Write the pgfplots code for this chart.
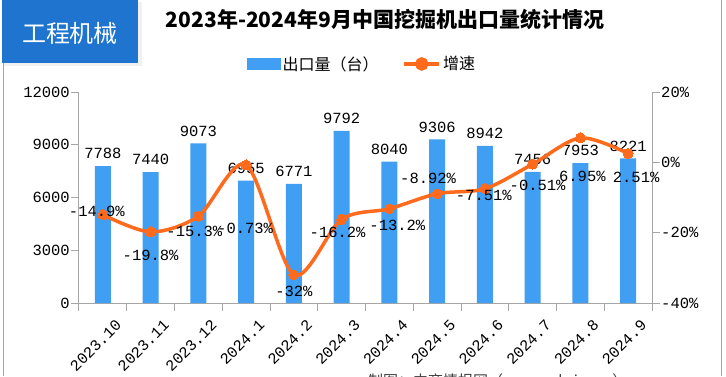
\documentclass[border=0pt]{standalone}
\usepackage{pgfplots}
\pgfplotsset{compat=1.18}
\usepackage{pgfplotstable}
\usepackage{fontspec}
\setmainfont{Liberation Serif}
\newfontfamily\num{Liberation Mono}
\newfontfamily\cjk{Noto Sans CJK SC}
\definecolor{barblue}{HTML}{409EF3}
\definecolor{lineor}{HTML}{FF6A1C}
\definecolor{axgray}{HTML}{A6A6A6}
\definecolor{boxblue}{HTML}{1E74CF}
\pgfplotstableread{
x v g lx ly
0 7788 -14.9 -6 3
1 7440 -19.8 0 -23
2 9073 -15.3 -4 -15
3 6955 -0.73 -1 -63
4 6771 -32 0 -17
5 9792 -16.2 -4 -13
6 8040 -13.2 8 -17
7 9306 -8.92 -9 15
8 8942 -7.51 -1 -7
9 7456 -0.51 5 -21
10 7953 6.95 2 -38
11 8221 2.51 8 -24
}\data
\begin{document}
\begin{tikzpicture}
\useasboundingbox (0,0) rectangle (726pt,376pt);
\clip (0,0) rectangle (726pt,376pt);
\fill[white] (0,0) rectangle (726pt,376pt);
% header box
\fill[black!6] (4pt,310pt) rectangle (142pt,374pt);
\fill[boxblue] (2pt,313pt) rectangle (138pt,376pt);
\node[text=white, font=\cjk\fontsize{24}{24}\selectfont] at (70pt,343pt) {工程机械};
\draw[axgray, line width=1pt] (3pt,0) -- (3pt,313pt);
\draw[axgray, line width=1pt] (721pt,0) -- (721pt,376pt);
\node[font=\cjk\bfseries\fontsize{21}{21}\selectfont] at (385pt,357pt) {2023年-2024年9月中国挖掘机出口量统计情况};
\begin{axis}[
  at={(79pt,73pt)}, anchor=south west, scale only axis,
  width=573pt, height=211pt,
  xmin=-0.5, xmax=11.5, ymin=0, ymax=12000,
  axis y line*=left, axis x line*=bottom,
  axis line style={axgray, line width=1pt},
  tick style={axgray, line width=1pt},
  tick align=outside, major tick length=8pt,
  xtick={-0.5,0.5,...,11.5},
  x tick label as interval,
  xticklabels={2023.10,2023.11,2023.12,2024.1,2024.2,2024.3,2024.4,2024.5,2024.6,2024.7,2024.8,2024.9},
  x tick label style={font=\num\fontsize{15.5}{16}\selectfont, rotate=45, anchor=north east, inner sep=0pt, yshift=-14pt, xshift=3pt},
  scaled y ticks=false,
  ytick={0,3000,6000,9000,12000},
  y tick label style={font=\num\fontsize{15.5}{16}\selectfont, inner sep=1pt},
  /pgf/number format/assume math mode=true,
  /pgf/number format/set thousands separator={},
  nodes near coords,
  every node near coord/.append style={font=\num\fontsize{15.5}{16}\selectfont, anchor=south, inner sep=0pt, yshift=7pt},
]
\addplot[ybar, bar width=16pt, fill=barblue, draw=none] table[x=x,y=v]{\data};
\end{axis}
\begin{axis}[
  at={(79pt,73pt)}, anchor=south west, scale only axis,
  width=573pt, height=211pt,
  xmin=-0.5, xmax=11.5, ymin=-40, ymax=20,
  axis x line=none, axis y line*=right,
  axis line style={axgray, line width=1pt},
  tick style={axgray, line width=1pt},
  tick align=outside, major tick length=8pt,
  ytick={-40,-20,0,20},
  yticklabel={\pgfmathprintnumber[assume math mode=true]{\tick}\%},
  y tick label style={font=\num\fontsize{15.5}{16}\selectfont, inner sep=1pt},
  legend style={at={(0.494,1.133)}, anchor=center, draw=none, fill=none, legend columns=2,
    font=\cjk\fontsize{16}{16}\selectfont,
    /tikz/every even column/.append style={column sep=22pt}},
  legend cell align=left,
]
\addlegendimage{legend image code/.code={\fill[barblue] (0pt,-5.5pt) rectangle (33pt,5.5pt);}}
\addlegendentry{出口量（台）}
\addplot[lineor, line width=3.5pt, smooth, mark=*, mark size=5pt,
  mark options={fill=lineor, draw=lineor, line width=0pt},
  legend image code/.code={\draw[lineor, line width=3.5pt] (0pt,0pt) -- (35pt,0pt); \fill[lineor] (17.5pt,0pt) circle (5pt);},
] table[x=x,y=g]{\data};
\addlegendentry{增速}
\addplot[draw=none, mark=none, forget plot,
  point meta=y,
  visualization depends on={\thisrow{lx}\as\lblx},
  visualization depends on={\thisrow{ly}\as\lbly},
  nodes near coords={\pgfmathprintnumber[assume math mode=true]{\pgfplotspointmeta}\%},
  every node near coord/.append style={font=\num\fontsize{15.5}{16}\selectfont, text=black, anchor=center, inner sep=0pt, xshift=\lblx pt, yshift=\lbly pt},
] table[x=x,y=g]{\data};
\end{axis}
\node[font=\cjk\fontsize{15}{15}\selectfont, text=black!75, anchor=north west, inner sep=0pt] at (368pt,3pt) {制图：中商情报网（www.askci.com）};
\end{tikzpicture}
\end{document}
